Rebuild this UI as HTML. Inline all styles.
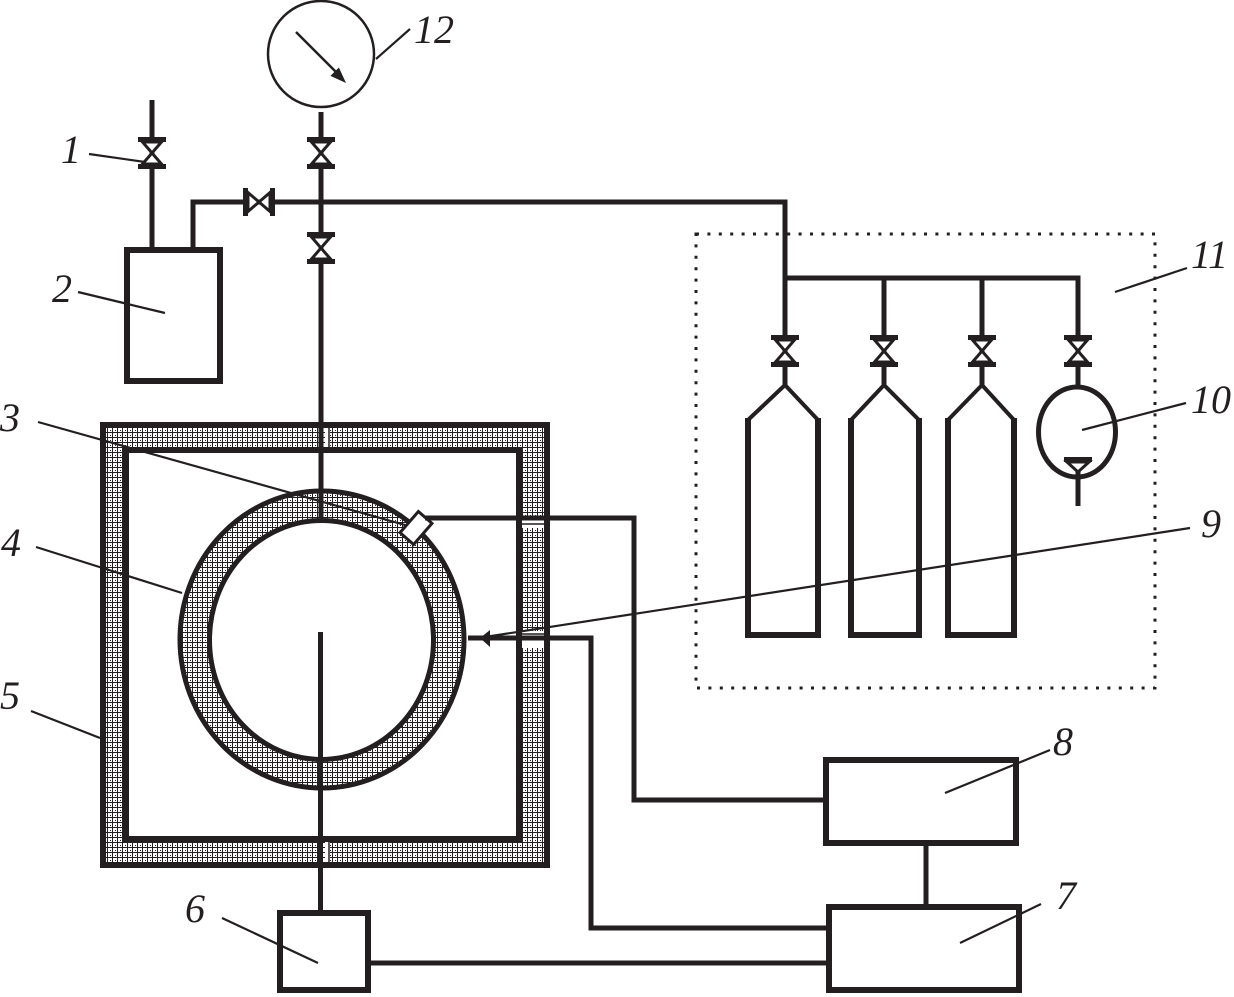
<!DOCTYPE html>
<html><head><meta charset="utf-8"><style>
html,body{margin:0;padding:0;background:#fff;}
svg{display:block;}
text{font-family:"Liberation Serif",serif;font-style:italic;font-size:40px;fill:#231f20;}
</style></head><body>
<svg width="1234" height="997" viewBox="0 0 1234 997" xmlns="http://www.w3.org/2000/svg">
<defs>
<pattern id="st" width="5" height="5" patternUnits="userSpaceOnUse">
 <rect width="5" height="5" fill="#fff"/>
 <rect x="0" y="2" width="5" height="1" fill="#231f20"/>
 <rect x="2" y="0" width="1" height="5" fill="#231f20"/>
 <rect x="0" y="0" width="1" height="1" fill="#231f20"/>
</pattern>
<g id="v">
 <rect x="-14" y="0" width="28" height="5" fill="#231f20"/>
 <rect x="-14" y="27" width="28" height="5" fill="#231f20"/>
 <polygon points="-9.5,5 9.5,5 0,16" fill="#fff" stroke="#231f20" stroke-width="3"/>
 <polygon points="-9.5,27 9.5,27 0,16" fill="#fff" stroke="#231f20" stroke-width="3"/>
</g>
</defs>

<g fill="none" stroke="#231f20" stroke-width="5">
 <!-- gauge -->
 <circle cx="321" cy="54" r="53" stroke-width="2.5"/>
 <!-- pipes top-left -->
 <line x1="152" y1="100" x2="152" y2="248"/>
 <polyline points="193,248 193,202 785,202 785,385"/>
 <line x1="321" y1="112" x2="321" y2="518"/>
 <!-- manifold -->
 <polyline points="785,278 1078,278 1078,385"/>
 <line x1="884" y1="278" x2="884" y2="385"/>
 <line x1="982" y1="278" x2="982" y2="385"/>
</g>

<!-- gauge arrow -->
<line x1="296" y1="32" x2="337" y2="73" stroke="#231f20" stroke-width="2.5"/>
<polygon points="346,83 330.4,75.9 338.9,67.5" fill="#231f20"/>

<!-- box 2 -->
<rect x="127" y="250" width="93" height="131" fill="#fff" stroke="#231f20" stroke-width="6"/>

<!-- dotted region 11 -->
<rect x="696" y="234" width="459" height="454" fill="none" stroke="#231f20" stroke-width="3" stroke-dasharray="3 8.4"/>

<!-- cylinders -->
<g fill="none" stroke="#231f20">
 <polyline points="748,418 748,635 818,635 818,418" stroke-width="6"/>
 <polyline points="748,420 785,385 818,420" stroke-width="4"/>
 <polyline points="851,418 851,635 919,635 919,418" stroke-width="6"/>
 <polyline points="851,420 884,385 919,420" stroke-width="4"/>
 <polyline points="948,418 948,635 1014,635 1014,418" stroke-width="6"/>
 <polyline points="948,420 982,385 1014,420" stroke-width="4"/>
</g>

<!-- vessel 10 -->
<ellipse cx="1077" cy="432" rx="38.5" ry="45" fill="#fff" stroke="#231f20" stroke-width="5"/>
<line x1="1078" y1="470" x2="1078" y2="506" stroke="#231f20" stroke-width="5"/>
<rect x="1064" y="457" width="28" height="5" fill="#231f20"/>
<polygon points="1067,462 1089,462 1078,472" fill="#fff" stroke="#231f20" stroke-width="3"/>

<!-- valves -->
<use href="#v" transform="translate(152,137)"/>
<use href="#v" transform="translate(321,137)"/>
<use href="#v" transform="translate(321,232)"/>
<use href="#v" transform="translate(275,202) rotate(90)"/>
<use href="#v" transform="translate(785,335)"/>
<use href="#v" transform="translate(884,335)"/>
<use href="#v" transform="translate(982,335)"/>
<use href="#v" transform="translate(1078,335)"/>

<!-- thermostat box 5 -->
<rect x="103" y="425" width="444" height="440" fill="url(#st)" stroke="#231f20" stroke-width="6"/>
<rect x="126" y="450" width="393" height="389" fill="#fff" stroke="#231f20" stroke-width="6"/>
<!-- band gaps -->
<rect x="325" y="428" width="5" height="19" fill="#fff"/>
<line x1="329" y1="428" x2="329" y2="447" stroke="#231f20" stroke-width="1.5"/>
<rect x="325" y="842" width="5" height="20" fill="#fff"/>
<line x1="329" y1="842" x2="329" y2="862" stroke="#231f20" stroke-width="1.5"/>
<rect x="522" y="520" width="22" height="8" fill="#fff"/>
<line x1="522" y1="524" x2="544" y2="524" stroke="#231f20" stroke-width="1.5"/>
<rect x="522" y="631" width="22" height="17" fill="#fff"/>
<line x1="522" y1="634" x2="544" y2="634" stroke="#231f20" stroke-width="1.5"/>

<!-- ring -->
<ellipse cx="322" cy="639.5" rx="142" ry="148.5" fill="url(#st)" stroke="#231f20" stroke-width="5"/>
<ellipse cx="321.5" cy="640" rx="112" ry="119.5" fill="#fff" stroke="#231f20" stroke-width="5"/>

<!-- pipes inside box -->
<line x1="321" y1="425" x2="321" y2="518" stroke="#231f20" stroke-width="5"/>
<line x1="320.5" y1="632" x2="320.5" y2="910" stroke="#231f20" stroke-width="5"/>

<!-- sensor 3 -->
<rect x="-14" y="-9" width="28" height="18" transform="translate(416,528) rotate(-49)" fill="#fff" stroke="#231f20" stroke-width="3"/>

<!-- signal lines -->
<g fill="none" stroke="#231f20" stroke-width="5">
 <polyline points="425,518 634,518 634,800 823,800"/>
 <polyline points="468,638 591,638 591,928 826,928"/>
 <line x1="371" y1="963" x2="826" y2="963"/>
 <line x1="926" y1="846" x2="926" y2="904"/>
</g>
<polygon points="480,638 490,630 490,647" fill="#231f20"/>

<!-- boxes 6,7,8 -->
<rect x="280" y="913" width="88" height="77" fill="#fff" stroke="#231f20" stroke-width="6"/>
<rect x="826" y="760" width="190" height="83" fill="#fff" stroke="#231f20" stroke-width="6"/>
<rect x="829" y="907" width="190" height="83" fill="#fff" stroke="#231f20" stroke-width="6"/>

<!-- leaders -->
<g stroke="#231f20" stroke-width="2.2" fill="none">
 <line x1="376" y1="59" x2="410" y2="29"/>
 <line x1="89" y1="154" x2="145" y2="162"/>
 <line x1="78" y1="292" x2="165" y2="313"/>
 <line x1="38" y1="422" x2="405" y2="525"/>
 <line x1="36" y1="547" x2="182" y2="593"/>
 <line x1="31" y1="711" x2="100" y2="738"/>
 <line x1="222" y1="918" x2="318" y2="963"/>
 <line x1="960" y1="943" x2="1041" y2="904"/>
 <line x1="945" y1="793" x2="1050" y2="750"/>
 <line x1="485" y1="637" x2="1190" y2="528"/>
 <line x1="1082" y1="430" x2="1186" y2="403"/>
 <line x1="1115" y1="292" x2="1187" y2="268"/>
</g>

<!-- labels -->
<text x="61" y="163">1</text>
<text x="52" y="302">2</text>
<text x="0" y="431">3</text>
<text x="1" y="556">4</text>
<text x="0" y="709">5</text>
<text x="185" y="922">6</text>
<text x="1056" y="909">7</text>
<text x="1053" y="755">8</text>
<text x="1201" y="537">9</text>
<text x="1191" y="413">10</text>
<text x="1191" y="268">11</text>
<text x="414" y="43">12</text>
</svg>
</body></html>
